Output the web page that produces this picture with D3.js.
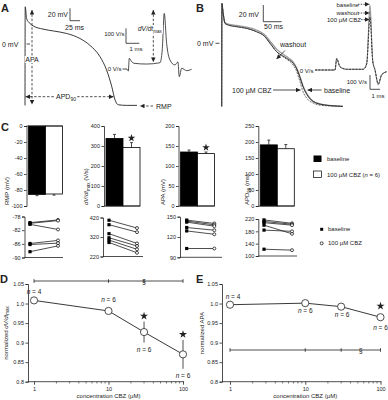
<!DOCTYPE html>
<html><head><meta charset="utf-8">
<script src="https://cdn.jsdelivr.net/npm/d3@7"></script>
<style>
body{margin:0;background:#fff;}
svg text{font-family:"Liberation Sans",Arial,Helvetica,sans-serif;fill:#222;}
</style></head><body>
<svg id="c" width="388" height="400"></svg>
<script>
// ---------------- DATA ----------------
// Panel A action potential (ms, mV)
const apA_time = [0, 0.5, 4, 12.5, 21, 45, 71, 104, 137, 162, 187, 204, 217, 225, 233, 254, 280];
const apA_mV   = [-99, 60, 41, 33, 29, 24, 21, 17, 9, -2, -20, -42, -69, -90, -98, -99, -99];
// Panel A inset dV/dt (ms, V/s)
const dvA_time = [0, 0.1, 0.17, 0.35, 0.53, 1.48, 2.48, 2.65, 2.8, 2.98, 3.23, 3.6, 3.83, 3.93, 4.11, 4.49, 4.86];
const dvA_val  = [0, -13, 71, 49, 38, 33, 42, 127, 371, 171, 60, 27, 47, -51, 5, -11, -2];
// Panel B action potentials (ms, mV)
const apB_time = [0, 0.5, 4, 9, 18, 41, 68, 95, 118, 132, 150, 177, 195, 204, 213, 222, 236, 250, 277, 331];
const apB_base = [-76, 48, 36, 24, 22, 20, 18, 14, 8, 0, -10, -18, -24, -30, -40, -52, -64, -70, -74, -76];
const apB_wash = [-76, 48, 36, 25, 23, 21.5, 19.5, 16, 10, 2.5, -7, -16, -22.5, -29, -39, -51, -63, -70, -74, -76];
const apB_cbz  = [-76, 48, 36, 24, 22, 20, 18, 14, 8, 0, -10, -19, -26, -33, -45, -58, -68, -72, -75, -76];
// Panel B inset dV/dt (ms, V/s)
const dvB_time = [-2, 0, 0.17, 0.5, 1.17, 2.83, 3.17, 3.5, 3.77, 4.0, 4.33, 4.67, 5.17];
const dvB_base = [0, 0, 82, 23, 5, 5, 47, 450, 70, 0, -105, -35, -12];
const dvB_wash = [0, 0, 80, 22, 5, 5, 45, 410, 66, 0, -100, -33, -12];
const dvB_cbz  = [0, 0, 78, 22, 5, 5, 42, 370, 62, 0, -95, -32, -12];
// Panel C bars
const barCats = ["baseline", "100 µM CBZ"];
const rmpMean = [-85.5, -85.0], rmpErr = [1.6, 1.4];
const dvdtMean = [338, 293], dvdtErr = [20, 24];
const apaMean = [135, 131], apaErr = [5, 4];
const apdMean = [191, 179], apdErr = [15, 13];
const rmpTicks = [0, -20, -40, -60, -80, -100];
const dvdtTicks = [0, 100, 200, 300, 400];
const apaTicks = [0, 50, 100, 150, 200];
const apdTicks = [0, 50, 100, 150, 200, 250];
// Panel C paired cells
const rmpBase = [-79.8, -80.0, -80.3, -85.9, -86.2, -88.3];
const rmpCbz  = [-79.0, -79.2, -81.8, -85.0, -85.8, -86.6];
const dvdtBase = [406, 383, 337, 316, 304, 292];
const dvdtCbz  = [366, 345, 287, 274, 257, 239];
const apaBase = [145, 143.5, 142, 134, 129, 103];
const apaCbz  = [140, 138, 136, 130, 124, 103];
const apdBase = [217, 212, 208, 200, 184, 122];
const apdCbz  = [206, 203, 200, 172, 180, 119];
const rmpPTicks = [-90, -86, -82, -78];
const dvdtPTicks = [220, 320, 420];
const apaPTicks = [90, 120, 150];
const apdPTicks = [100, 140, 180, 220];
// Panels D/E
const conc = [1, 10, 30, 100];
const nCells = [4, 6, 6, 6];
const dvdtNorm = [1.008, 0.981, 0.927, 0.870];
const dvdtNormErr = [0, 0.008, 0.027, 0.037];
const apaNorm = [0.997, 1.001, 0.992, 0.965];
const apaNormErr = [0, 0, 0.003, 0.008];
const normTicks = [0.8, 0.85, 0.9, 0.95, 1.0, 1.05];
const normTickLabels = ["0.8", "0.85", "0.9", "0.95", "1.0", "1.05"];
const concTicks = [1, 10, 100];

// ---------------- DRAW ----------------
const svg = d3.select("#c");
const INK = "#222";
const fmt = d => String(d);
const defs = svg.append("defs");
defs.append("marker").attr("id", "ah").attr("viewBox", "0 0 10 10")
  .attr("refX", 10).attr("refY", 5).attr("markerWidth", 5).attr("markerHeight", 4.5)
  .attr("markerUnits", "userSpaceOnUse").attr("orient", "auto-start-reverse")
  .append("path").attr("d", "M0,0L10,5L0,10z").attr("fill", INK);

function T(x, y, s, size, opt = {}) {
  const t = svg.append("text").attr("x", x).attr("y", y).attr("font-size", size).text(s);
  if (opt.anchor) t.attr("text-anchor", opt.anchor);
  if (opt.bold) t.attr("font-weight", "bold");
  if (opt.italic) t.attr("font-style", "italic");
  return t;
}
function L(x1, y1, x2, y2, opt = {}) {
  const l = svg.append("line").attr("x1", x1).attr("y1", y1).attr("x2", x2).attr("y2", y2)
    .attr("stroke", opt.color || INK).attr("stroke-width", opt.w || 0.8);
  if (opt.dash) l.attr("stroke-dasharray", opt.dash);
  if (opt.start) l.attr("marker-start", "url(#ah)");
  if (opt.end) l.attr("marker-end", "url(#ah)");
  return l;
}
function whiteBg(t, pad = 0.5) {
  const b = t.node().getBBox();
  svg.insert("rect", () => t.node()).attr("x", b.x - pad).attr("y", b.y).attr("width", b.width + 2 * pad)
    .attr("height", b.height).attr("fill", "#fff");
}

// Panel letters
T(1, 12, "A", 11, { bold: true });
T(196, 12, "B", 11, { bold: true });
T(1, 131, "C", 11, { bold: true });
T(0, 283, "D", 11, { bold: true });
T(196, 283, "E", 11, { bold: true });

// ----- Panel A -----
const xA = d3.scaleLinear().domain([0, 25]).range([25, 35]);
const yA = d3.scaleLinear().domain([0, 20]).range([44, 31.6]);
svg.append("path").datum(apA_mV)
  .attr("d", d3.line().x((d, i) => xA(apA_time[i])).y(d => yA(d)).curve(d3.curveMonotoneX))
  .attr("fill", "none").attr("stroke", INK).attr("stroke-width", 0.9);
T(2, 46.5, "0 mV", 7);
L(26.5, yA(0), 30, yA(0));
// scale bar
L(70, 8.3, 70, 20.7);
L(70, 20.7, 80, 20.7);
T(68, 17, "20 mV", 7, { anchor: "end" });
T(65, 29.5, "25 ms", 7);
// APA arrows
L(32, 10, 32, 104.5, { dash: "2.5,1.8", start: true, end: true });
whiteBg(T(32, 62, "APA", 7, { anchor: "middle" }));
// APD90
L(25.5, 96.7, 113.5, 96.7, { dash: "2.5,1.8", start: true, end: true });
{
  const t = T(66, 99.2, "APD", 7, { anchor: "middle" });
  t.append("tspan").attr("font-size", 5).attr("dy", 1.8).text("90");
  whiteBg(t, 1);
}
// RMP
L(153, 106, 140, 106, { dash: "2.5,1.8", end: true });
T(156, 108.5, "RMP", 7);
// inset A
const xIA = d3.scaleLinear().domain([0, 1]).range([127, 140.3]);
const yIA = d3.scaleLinear().domain([0, 100]).range([69, 54]);
svg.append("path").datum(dvA_val)
  .attr("d", d3.line().x((d, i) => xIA(dvA_time[i])).y(d => yIA(d)).curve(d3.curveMonotoneX))
  .attr("fill", "none").attr("stroke", INK).attr("stroke-width", 0.8);
L(126, 28.3, 126, 43.3);
L(126, 43.3, 139.3, 43.3);
T(124.5, 35.5, "100 V/s", 6, { anchor: "end" });
T(129.5, 50.5, "1 ms", 6);
T(121.5, 71, "0 V/s", 6, { anchor: "end" });
L(122.5, yIA(0), 127, yIA(0));
L(153.3, 10, 153.3, 62, { dash: "2.5,1.8", start: true, end: true });
{
  const t = T(138, 31, "dV/dt", 6.5, { italic: true });
  t.append("tspan").attr("font-size", 4.6).attr("dy", 1.6).attr("font-style", "normal").text("max");
  whiteBg(t, 0.5);
}

// ----- Panel B -----
const xB = d3.scaleLinear().domain([0, 50]).range([221.7, 240]);
const yB = d3.scaleLinear().domain([0, 20]).range([43.3, 26.7]);
const lineB = arr => d3.line().x((d, i) => xB(apB_time[i])).y(d => yB(d)).curve(d3.curveMonotoneX)(arr);
svg.append("path").attr("d", lineB(apB_wash)).attr("fill", "none").attr("stroke", "#9a9a9a").attr("stroke-width", 1.3);
svg.append("path").attr("d", lineB(apB_base)).attr("fill", "none").attr("stroke", INK).attr("stroke-width", 0.9);
svg.append("path").attr("d", lineB(apB_cbz)).attr("fill", "none").attr("stroke", "#444").attr("stroke-width", 0.8).attr("stroke-dasharray", "2,1.2");
T(197, 45.5, "0 mV", 7);
L(215.5, yB(0), 219.5, yB(0));
L(263.3, 5, 263.3, 21.7);
L(263.3, 21.7, 281.7, 21.7);
T(259, 17, "20 mV", 7, { anchor: "end" });
T(264, 29, "50 ms", 7);
T(280, 47, "washout", 7);
L(285, 50.5, 276.5, 59, { end: true });
T(271.5, 92.5, "100 µM CBZ", 7, { anchor: "end" });
L(273, 90, 300.5, 90, { end: true });
T(324, 92.5, "baseline", 7);
L(321.5, 90, 307.5, 90, { end: true });
// inset B
const xIB = d3.scaleLinear().domain([0, 1]).range([335, 345]);
const yIB = d3.scaleLinear().domain([0, 100]).range([70, 55.7]);
const lineIB = arr => d3.line().x((d, i) => xIB(dvB_time[i])).y(d => yIB(d)).curve(d3.curveMonotoneX)(arr);
svg.append("path").attr("d", lineIB(dvB_wash)).attr("fill", "none").attr("stroke", "#aaa").attr("stroke-width", 0.9);
svg.append("path").attr("d", lineIB(dvB_base)).attr("fill", "none").attr("stroke", "#777").attr("stroke-width", 0.7);
svg.append("path").attr("d", lineIB(dvB_cbz)).attr("fill", "none").attr("stroke", INK).attr("stroke-width", 0.9).attr("stroke-dasharray", "2,1.3");
T(313.5, 72.5, "0 V/s", 6, { anchor: "end" });
T(336.5, 6.5, "baseline", 6);
L(358, 4.3, 369.5, 4.3, { dash: "1.5,1.2", end: true });
T(336.5, 15.3, "washout", 6);
L(358, 13, 369.5, 13, { dash: "1.5,1.2", end: true });
T(327, 21.8, "100 µM CBZ", 6);
L(361, 19.6, 369.5, 19.6, { dash: "1.5,1.2", end: true });
L(370, 75, 370, 89.3);
L(370, 89.3, 380, 89.3);
T(367, 83.5, "100 V/s", 6, { anchor: "end" });
T(371.5, 97.5, "1 ms", 6);

// ----- Panel C bars -----
function styleAxis(g, fs) {
  g.selectAll("path,line").attr("stroke", INK).attr("stroke-width", 0.8);
  g.selectAll("text").attr("font-size", fs).attr("fill", INK)
    .attr("font-family", '"Liberation Sans",Arial,sans-serif');
}
function barChart(ax, domain, ticks, means, errs, labelParts, labelX, star) {
  const y = d3.scaleLinear().domain(domain).range([206, 126]);
  const x = d3.scaleBand().domain(barCats).range([ax + 2, ax + 36]);
  const g = svg.append("g").attr("transform", `translate(${ax},0)`)
    .call(d3.axisLeft(y).tickValues(ticks).tickSize(2.5).tickPadding(1.5).tickFormat(fmt));
  styleAxis(g, 5.5);
  barCats.forEach((c, i) => {
    const m = means[i], e = errs[i], y0 = y(0), ym = y(m);
    const dir = m >= 0 ? 1 : -1;
    const xc = x(c) + x.bandwidth() / 2;
    L(xc, ym, xc, y(m + dir * e), { w: 0.8 });
    L(xc - 1.5, y(m + dir * e), xc + 1.5, y(m + dir * e), { w: 0.8 });
    svg.append("rect").attr("x", x(c)).attr("y", Math.min(y0, ym)).attr("width", x.bandwidth())
      .attr("height", Math.abs(ym - y0)).attr("fill", i === 0 ? "#000" : "#fff")
      .attr("stroke", "#000").attr("stroke-width", 0.8);
  });
  L(ax, y(0), ax + 36, y(0));
  if (star) {
    const c = barCats[1];
    svg.append("path").attr("d", d3.symbol(d3.symbolStar).size(18)())
      .attr("transform", `translate(${x(c) + x.bandwidth() / 2},${y(means[1] + errs[1]) - 4.5})`).attr("fill", INK);
  }
  const t = svg.append("text").attr("transform", `translate(${labelX},205) rotate(-90)`).attr("font-size", 6);
  labelParts.forEach(p => {
    const s = t.append("tspan").text(p.t);
    if (p.i) s.attr("font-style", "italic");
    if (p.sub) s.attr("font-size", 4.5).attr("dy", 1.5);
    if (p.up) s.attr("dy", -1.5);
  });
}
barChart(26.5, [-100, 0], rmpTicks, rmpMean, rmpErr, [{ t: "RMP (mV)" }], 8.5, false);
barChart(104, [0, 400], dvdtTicks, dvdtMean, dvdtErr,
  [{ t: "dV/dt", i: true }, { t: "max", sub: true }, { t: " (V/s)", up: true }], 88, true);
barChart(178.5, [0, 200], apaTicks, apaMean, apaErr, [{ t: "APA (mV)" }], 165, true);
barChart(258.3, [0, 250], apdTicks, apdMean, apdErr,
  [{ t: "APD" }, { t: "90", sub: true }, { t: " (ms)", up: true }], 249, false);
// legend bars
svg.append("rect").attr("x", 313.5).attr("y", 155.5).attr("width", 8).attr("height", 6.5).attr("fill", "#000");
svg.append("rect").attr("x", 313.5).attr("y", 171).attr("width", 8).attr("height", 6.5).attr("fill", "#fff").attr("stroke", "#000").attr("stroke-width", 0.7);
T(327, 161, "baseline", 6);
{
  const t = T(327, 176.5, "100 µM CBZ (", 6);
  t.append("tspan").attr("font-style", "italic").text("n");
  t.append("tspan").text(" = 6)");
}

// ----- Panel C paired -----
function paired(ax, xb, xc, xe, domain, yr, ticks, base, cbz) {
  const y = d3.scaleLinear().domain(domain).range(yr);
  const g = svg.append("g").attr("transform", `translate(${ax},0)`)
    .call(d3.axisLeft(y).tickValues(ticks).tickSize(2.5).tickPadding(1.5).tickFormat(fmt));
  styleAxis(g, 5.5);
  L(ax, yr[0], xe, yr[0]);
  base.forEach((b, i) => {
    L(xb, y(b), xc, y(cbz[i]), { w: 0.8 });
  });
  base.forEach(b => svg.append("rect").attr("x", xb - 1.6).attr("y", y(b) - 1.6).attr("width", 3.2).attr("height", 3.2).attr("fill", "#000"));
  cbz.forEach(c => svg.append("circle").attr("cx", xc).attr("cy", y(c)).attr("r", 1.5).attr("fill", "#fff").attr("stroke", "#000").attr("stroke-width", 0.7));
}
paired(24.5, 30, 58, 63, [-90, -78], [257.5, 216.5], rmpPTicks, rmpBase, rmpCbz);
paired(103, 109, 137, 143, [220, 420], [256.5, 217.5], dvdtPTicks, dvdtBase, dvdtCbz);
paired(180, 186.7, 214.3, 222, [90, 150], [257.3, 216.7], apaPTicks, apaBase, apaCbz);
paired(258.3, 264, 292, 297, [100, 220], [256, 219], apdPTicks, apdBase, apdCbz);
svg.append("rect").attr("x", 320.2).attr("y", 227.8).attr("width", 3).attr("height", 3).attr("fill", "#000");
svg.append("circle").attr("cx", 321.7).attr("cy", 243.3).attr("r", 1.5).attr("fill", "#fff").attr("stroke", "#000").attr("stroke-width", 0.7);
T(328, 231.3, "baseline", 6);
T(328, 245.3, "100 µM CBZ", 6);

// ----- Panels D / E -----
function normPanel(ax, x0, x1, vals, errs, labelParts, labelX, cfg) {
  const y = d3.scaleLinear().domain([0.8, 1.05]).range([381.7, 284]);
  const x = d3.scaleLog().domain([1, 100]).range([x0, x1]);
  const gy = svg.append("g").attr("transform", `translate(${ax},0)`)
    .call(d3.axisLeft(y).tickValues(normTicks).tickSize(2.5).tickPadding(1.5).tickFormat((d, i) => normTickLabels[i]));
  styleAxis(gy, 5.5);
  // x axis
  L(ax, y(0.8), x1 + 1, y(0.8));
  const minor = [];
  for (let d = 1; d < 100; d *= 10) for (let k = 2; k <= 9; k++) minor.push(d * k);
  minor.forEach(m => L(x(m), y(0.8), x(m), y(0.8) + 1.8, { w: 0.6 }));
  const gx = svg.append("g").attr("transform", `translate(0,${y(0.8)})`)
    .call(d3.axisBottom(x).tickValues(concTicks).tickSize(3).tickPadding(2).tickFormat(fmt));
  gx.select(".domain").remove();
  styleAxis(gx, 5.5);
  T((x0 + x1) / 2, 397.5, "concentration CBZ (µM)", 6, { anchor: "middle" });
  const t = svg.append("text").attr("transform", `translate(${labelX},333) rotate(-90)`).attr("font-size", 6).attr("text-anchor", "middle");
  labelParts.forEach(p => {
    const s = t.append("tspan").text(p.t);
    if (p.i) s.attr("font-style", "italic");
    if (p.sub) s.attr("font-size", 4.5).attr("dy", 1.5);
  });
  // bracket
  L(x(1), cfg.brY, x(100), cfg.brY, { w: 0.8 });
  conc.forEach(c => L(x(c), cfg.brY - 1.8, x(c), cfg.brY + 1.8, { w: 0.8 }));
  T(x(cfg.secAt), cfg.brY + 3, "§", 7, { anchor: "middle" });
  // line + error bars + circles
  svg.append("path").datum(vals).attr("d", d3.line().x((d, i) => x(conc[i])).y(d => y(d)))
    .attr("fill", "none").attr("stroke", INK).attr("stroke-width", 0.9);
  vals.forEach((v, i) => {
    if (errs[i] > 0) {
      L(x(conc[i]), y(v + errs[i]), x(conc[i]), y(v - errs[i]), { w: 0.8 });
    }
  });
  vals.forEach((v, i) => svg.append("circle").attr("cx", x(conc[i])).attr("cy", y(v)).attr("r", 3.6)
    .attr("fill", "#fff").attr("stroke", INK).attr("stroke-width", 0.8));
  // n labels and stars
  vals.forEach((v, i) => {
    const pos = cfg.nPos[i];
    const yy = pos === "up" ? y(v + errs[i]) - 6 : y(v - errs[i]) + 9.5;
    const t = T(x(conc[i]) + (cfg.nDx ? cfg.nDx[i] : 0), yy, "", 6.5, { anchor: "middle" });
    t.append("tspan").attr("font-style", "italic").text("n");
    t.append("tspan").text(" = " + nCells[i]);
    if (cfg.stars[i]) {
      svg.append("path").attr("d", d3.symbol(d3.symbolStar).size(20)())
        .attr("transform", `translate(${x(conc[i])},${y(v + errs[i]) - cfg.starGap})`).attr("fill", INK);
    }
  });
}
normPanel(28, 34, 183, dvdtNorm, dvdtNormErr,
  [{ t: "normalized " }, { t: "dV/dt", i: true }, { t: "max", sub: true }], 7.5,
  { brY: 281, secAt: 30, nPos: ["up", "up", "down", "down"], stars: [false, false, true, true], starGap: 5.5, nDx: [0, 0, 0, 0] });
normPanel(222, 230, 380.5, apaNorm, apaNormErr,
  [{ t: "normalized APA" }], 203.5,
  { brY: 350, secAt: Math.sqrt(3000), nPos: ["up", "down", "down", "down"], stars: [false, false, false, true], starGap: 8, nDx: [3, 0, 1, 0] });
</script>
</body></html>
